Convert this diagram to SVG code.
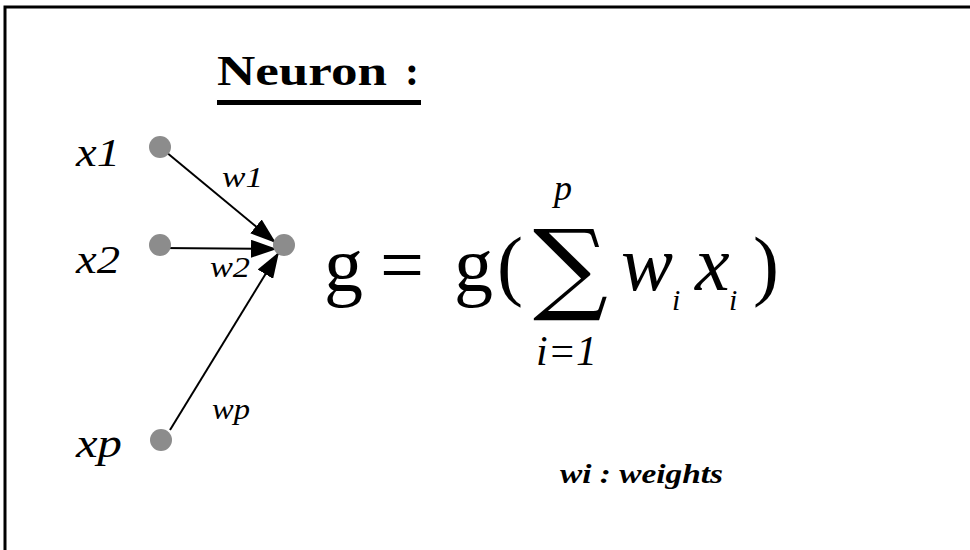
<svg xmlns="http://www.w3.org/2000/svg" width="970" height="550" viewBox="0 0 970 550">
<style>
.it{font-family:"Liberation Serif","Times New Roman",serif;font-style:italic;fill:#000}
.rm{font-family:"Liberation Serif","Times New Roman",serif;fill:#000}
.dot{fill:#8c8c8c}
.conn{stroke:#000;stroke-width:2;fill:none}
</style>
<defs>
<marker id="arr" viewBox="0 0 26 18" refX="26" refY="9" markerWidth="26" markerHeight="18" markerUnits="userSpaceOnUse" orient="auto">
<path d="M0,0 L26,9 L0,18 z" fill="#000"/>
</marker>
</defs>
<rect width="970" height="550" fill="#fff"/>
<path d="M5,550 V7 H970" stroke="#000" stroke-width="3" fill="none"/>
<g id="title">
<text x="217" y="85" class="rm" font-size="42" font-weight="bold" textLength="170" lengthAdjust="spacingAndGlyphs">Neuron</text>
<text x="405" y="85" class="rm" font-size="42" font-weight="bold">:</text>
<rect x="217" y="100" width="204" height="5" fill="#000"/>
</g>
<g id="connectors">
<line class="conn" x1="160" y1="147" x2="276" y2="243" marker-end="url(#arr)"/>
<line class="conn" x1="160" y1="248" x2="277" y2="249" marker-end="url(#arr)" stroke-width="3"/>
<line class="conn" x1="170" y1="430" x2="279" y2="252" marker-end="url(#arr)"/>
</g>
<g id="n-x1"><circle class="dot" cx="160" cy="147" r="11"/><text x="76" y="166" class="it" font-size="40" textLength="44" lengthAdjust="spacingAndGlyphs">x1</text></g>
<g id="n-x2"><circle class="dot" cx="160" cy="245" r="11"/><text x="76" y="273" class="it" font-size="40" textLength="44" lengthAdjust="spacingAndGlyphs">x2</text></g>
<g id="n-xp"><circle class="dot" cx="161" cy="440" r="11"/><text x="76" y="457" class="it" font-size="40" textLength="46" lengthAdjust="spacingAndGlyphs">xp</text></g>
<g id="n-out"><circle class="dot" cx="284" cy="245" r="11"/></g>
<g id="weights">
<text x="222" y="187" class="it" font-size="30" textLength="41" lengthAdjust="spacingAndGlyphs">w1</text>
<text x="210" y="277" class="it" font-size="30" textLength="40" lengthAdjust="spacingAndGlyphs">w2</text>
<text x="212" y="419" class="it" font-size="30" textLength="38" lengthAdjust="spacingAndGlyphs">wp</text>
</g>
<g id="formula">
<text x="324" y="291" class="rm" font-size="78">g</text>
<text x="380" y="291" class="rm" font-size="78">=</text>
<text x="454" y="291" class="rm" font-size="78">g</text>
<text x="497" y="291" class="rm" font-size="78">(</text>
<text x="533" y="301" font-family="'DejaVu Serif',serif" font-size="100" textLength="75" lengthAdjust="spacingAndGlyphs">∑</text>
<text x="554" y="200" class="it" font-size="36">p</text>
<text x="536" y="365" class="it" font-size="42">i=1</text>
<text x="621" y="290" class="it" font-size="78">w</text>
<text x="672" y="310" class="it" font-size="30">i</text>
<text x="695" y="290" class="it" font-size="78">x</text>
<text x="729" y="310" class="it" font-size="30">i</text>
<text x="753" y="291" class="rm" font-size="78">)</text>
</g>
<g id="legend">
<text x="560" y="483" class="it" font-size="28" font-weight="bold" textLength="163" lengthAdjust="spacingAndGlyphs">wi : weights</text>
</g>
</svg>
